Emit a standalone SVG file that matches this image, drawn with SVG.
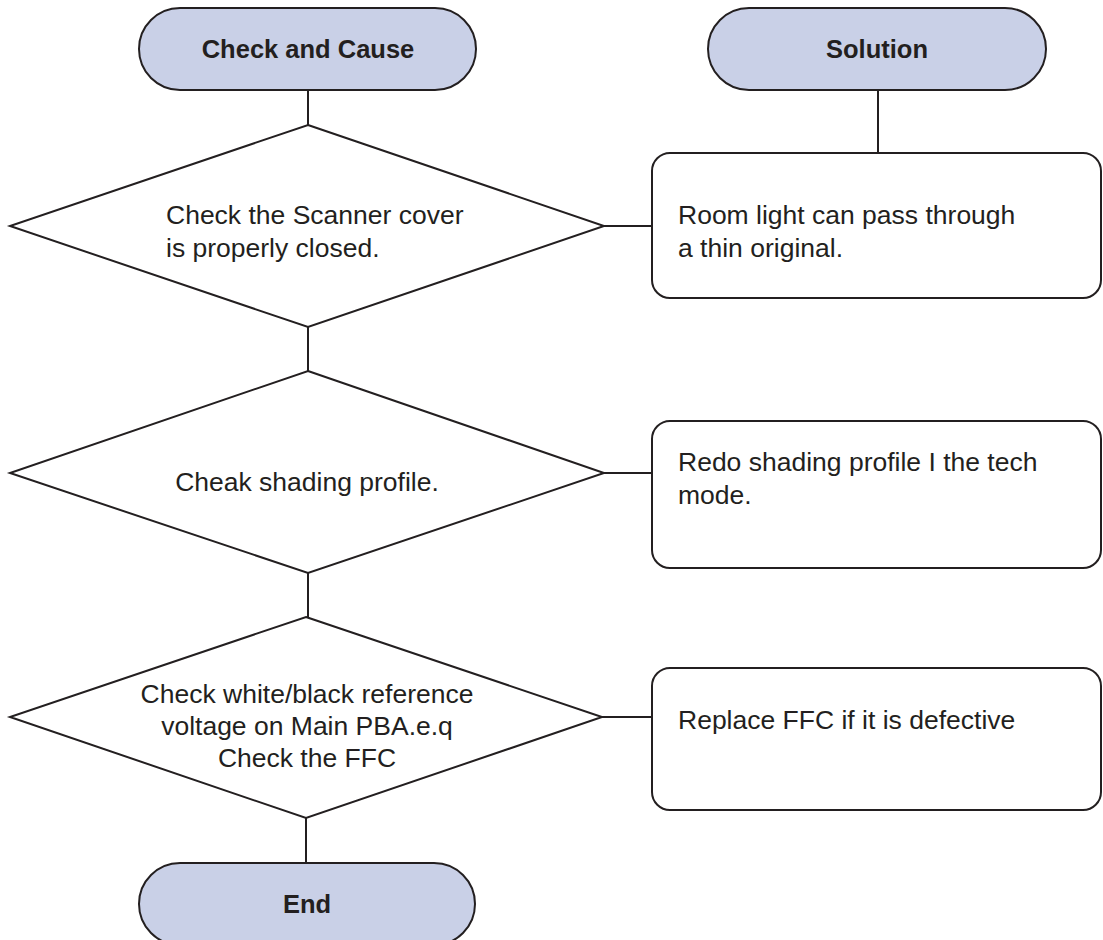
<svg xmlns="http://www.w3.org/2000/svg" width="1103" height="940" viewBox="0 0 1103 940">
<style>
.sh{fill:#fff;stroke:#231f20;stroke-width:2}
.pill{fill:#c9d0e7;stroke:#231f20;stroke-width:2}
.ln{stroke:#231f20;stroke-width:2;fill:none}
.t{font-family:"Liberation Sans",Arial,sans-serif;font-size:26.5px;fill:#231f20}
.h{font-family:"Liberation Sans",Arial,sans-serif;font-size:25.5px;font-weight:bold;fill:#231f20;text-anchor:middle}
.c{text-anchor:middle}
</style>
<rect width="1103" height="940" fill="#fff"/>
<g id="connectors">
<line class="ln" x1="308" y1="90" x2="308" y2="125"/>
<line class="ln" x1="878" y1="90" x2="878" y2="153"/>
<line class="ln" x1="604" y1="226" x2="652" y2="226"/>
<line class="ln" x1="308" y1="327" x2="308" y2="371"/>
<line class="ln" x1="604" y1="473" x2="652" y2="473"/>
<line class="ln" x1="308" y1="573" x2="308" y2="617"/>
<line class="ln" x1="602" y1="717" x2="652" y2="717"/>
<line class="ln" x1="306" y1="818" x2="306" y2="863"/>
</g>
<g id="start">
<rect class="pill" x="139" y="8" width="337" height="82" rx="41"/>
<text class="h" x="308" y="58">Check and Cause</text>
</g>
<g id="solution">
<rect class="pill" x="708" y="8" width="338" height="82" rx="41"/>
<text class="h" x="877" y="58">Solution</text>
</g>
<g id="d1">
<polygon class="sh" points="308,125 604,226 308,327 10,226"/>
<text class="t" x="166" y="224">Check the Scanner cover</text>
<text class="t" x="166" y="257">is properly closed.</text>
</g>
<g id="b1">
<rect class="sh" x="652" y="153" width="449" height="145" rx="18"/>
<text class="t" x="678" y="224">Room light can pass through</text>
<text class="t" x="678" y="257">a thin original.</text>
</g>
<g id="d2">
<polygon class="sh" points="308,371 604,473 308,573 10,473"/>
<text class="t c" x="307" y="491">Cheak shading profile.</text>
</g>
<g id="b2">
<rect class="sh" x="652" y="421" width="449" height="147" rx="18"/>
<text class="t" x="678" y="471">Redo shading profile I the tech</text>
<text class="t" x="678" y="504">mode.</text>
</g>
<g id="d3">
<polygon class="sh" points="306,617 602,717 306,818 10,717"/>
<text class="t c" x="307" y="703">Check white/black reference</text>
<text class="t c" x="307" y="735">voltage on Main PBA.e.q</text>
<text class="t c" x="307" y="767">Check the FFC</text>
</g>
<g id="b3">
<rect class="sh" x="652" y="668" width="449" height="142" rx="18"/>
<text class="t" x="678" y="729">Replace FFC if it is defective</text>
</g>
<g id="end">
<rect class="pill" x="139" y="863" width="336" height="82" rx="41"/>
<text class="h" x="307" y="913">End</text>
</g>
</svg>
